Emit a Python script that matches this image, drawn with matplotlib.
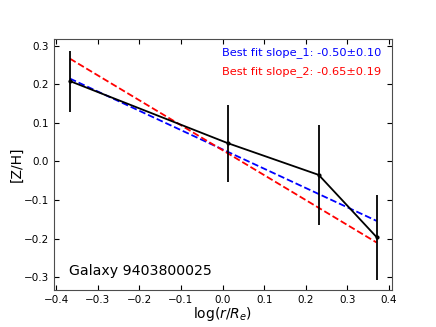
import matplotlib
matplotlib.use("Agg")
import matplotlib.pyplot as plt
import numpy as np

logr = [-0.367, 0.013, 0.231, 0.370]
zh = [0.208, 0.047, -0.035, -0.196]
zh_err = [0.079, 0.100, 0.130, 0.110]

slope_1, icpt_1 = -0.50, 0.031
slope_2, icpt_2 = -0.646, 0.029

fig = plt.figure(figsize=(4.36, 3.27), dpi=100)
ax = fig.add_axes([0.124, 0.112, 0.775, 0.77])

xx = np.array([logr[0], logr[-1]])
ax.plot(xx, slope_1 * xx + icpt_1, 'b--', lw=1.3)
ax.plot(xx, slope_2 * xx + icpt_2, 'r--', lw=1.3)
ax.errorbar(logr, zh, yerr=zh_err, color='k', fmt='-o', ms=2, lw=1.3, elinewidth=1.3)

ax.set_xlim(-0.405, 0.407)
ax.set_ylim(-0.334, 0.318)
ax.tick_params(direction='in', top=True, right=True, labelsize=7.5)
ax.set_xlabel(r'log($r/R_e$)', fontsize=10, labelpad=0)
ax.set_ylabel('[Z/H]', fontsize=10, labelpad=0)
ax.text(0.968, 0.945, 'Best fit slope_1: -0.50±0.10', color='b', fontsize=8.2,
        ha='right', va='center', transform=ax.transAxes)
ax.text(0.968, 0.869, 'Best fit slope_2: -0.65±0.19', color='r', fontsize=8.2,
        ha='right', va='center', transform=ax.transAxes)
ax.text(0.045, 0.075, 'Galaxy 9403800025', color='k', fontsize=10.2,
        ha='left', va='center', transform=ax.transAxes)
for s in ax.spines.values():
    s.set_color('0.3')

fig.savefig('out.png', dpi=100)
